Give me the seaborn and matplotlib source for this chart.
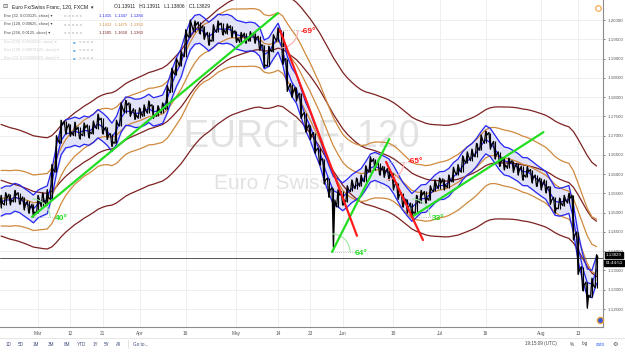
import matplotlib
matplotlib.use("Agg")
import matplotlib.pyplot as plt
from matplotlib.lines import Line2D
from matplotlib.patches import Arc
import numpy as np
import pandas as pd
import seaborn as sns

# EURCHF 120-min chart, one value per trading day (0 = 1 Mar 2018)
day_idx = list(range(-8, 122))
close = [1.1525, 1.1538, 1.1533, 1.1546, 1.1533, 1.1520, 1.1512, 1.1502,
         1.1533, 1.1533, 1.1538, 1.1611, 1.1689, 1.1728, 1.1720, 1.1709,
         1.1715, 1.1704, 1.1720, 1.1709, 1.1725, 1.1741, 1.1715, 1.1702,
         1.1683, 1.1728, 1.1772, 1.1779, 1.1761, 1.1754, 1.1759, 1.1767,
         1.1777, 1.1754, 1.1767, 1.1772, 1.1818, 1.1865, 1.1891, 1.1909,
         1.1961, 1.1987, 1.1987, 1.1979, 1.1961, 1.1948, 1.1974, 1.1987,
         1.1974, 1.1979, 1.1969, 1.1953, 1.1956, 1.1953, 1.1959, 1.1953,
         1.1935, 1.1883, 1.1922, 1.1953, 1.1969, 1.1896, 1.1824, 1.1813,
         1.1805, 1.1754, 1.1720, 1.1702, 1.1663, 1.1637, 1.1585, 1.1559,
         1.1533, 1.1546, 1.1533, 1.1559, 1.1572, 1.1577, 1.1585, 1.1611,
         1.1632, 1.1624, 1.1611, 1.1606, 1.1598, 1.1572, 1.1546, 1.1525,
         1.1515, 1.1502, 1.1533, 1.1546, 1.1538, 1.1559, 1.1572, 1.1577,
         1.1572, 1.1585, 1.1606, 1.1611, 1.1637, 1.1645, 1.1650, 1.1668,
         1.1689, 1.1702, 1.1676, 1.1650, 1.1632, 1.1624, 1.1629, 1.1619,
         1.1611, 1.1598, 1.1606, 1.1590, 1.1580, 1.1572, 1.1564, 1.1533,
         1.1512, 1.1525, 1.1533, 1.1538, 1.1442, 1.1351, 1.1312, 1.1286,
         1.1312, 1.13829]
high = [1.1545, 1.1552, 1.1548, 1.1558, 1.1552, 1.1541, 1.1530, 1.1522,
        1.1545, 1.1551, 1.1560, 1.1625, 1.1700, 1.1740, 1.1738, 1.1730,
        1.1735, 1.1722, 1.1733, 1.1728, 1.1738, 1.1756, 1.1745, 1.1722,
        1.1705, 1.1740, 1.1785, 1.1792, 1.1785, 1.1770, 1.1772, 1.1780,
        1.1790, 1.1780, 1.1778, 1.1785, 1.1830, 1.1875, 1.1900, 1.1920,
        1.1975, 1.2000, 1.1998, 1.1995, 1.1985, 1.1968, 1.1988, 1.1998,
        1.1992, 1.1990, 1.1985, 1.1972, 1.1968, 1.1966, 1.1970, 1.1966,
        1.1958, 1.1935, 1.1932, 1.1962, 1.1980, 1.1972, 1.1900, 1.1835,
        1.1825, 1.1810, 1.1760, 1.1728, 1.1708, 1.1668, 1.1640, 1.1590,
        1.1565, 1.1560, 1.1555, 1.1570, 1.1585, 1.1590, 1.1598, 1.1622,
        1.1645, 1.1640, 1.1630, 1.1620, 1.1615, 1.1602, 1.1578, 1.1552,
        1.1535, 1.1525, 1.1545, 1.1558, 1.1555, 1.1570, 1.1585, 1.1590,
        1.1588, 1.1598, 1.1618, 1.1625, 1.1648, 1.1658, 1.1665, 1.1680,
        1.1702, 1.1712, 1.1708, 1.1685, 1.1658, 1.1642, 1.1642, 1.1635,
        1.1628, 1.1620, 1.1620, 1.1612, 1.1598, 1.1590, 1.1585, 1.1568,
        1.1540, 1.1538, 1.1545, 1.1550, 1.1545, 1.1450, 1.1360, 1.1320,
        1.1330, 1.1391]
low = [1.1512, 1.1520, 1.1521, 1.1528, 1.1522, 1.1508, 1.1499, 1.1490,
       1.1498, 1.1515, 1.1520, 1.1535, 1.1605, 1.1680, 1.1705, 1.1698,
       1.1700, 1.1692, 1.1700, 1.1695, 1.1705, 1.1718, 1.1705, 1.1690,
       1.1672, 1.1680, 1.1725, 1.1760, 1.1750, 1.1742, 1.1745, 1.1750,
       1.1758, 1.1745, 1.1750, 1.1758, 1.1768, 1.1812, 1.1858, 1.1880,
       1.1905, 1.1955, 1.1970, 1.1965, 1.1950, 1.1935, 1.1945, 1.1968,
       1.1962, 1.1965, 1.1955, 1.1942, 1.1942, 1.1940, 1.1945, 1.1940,
       1.1922, 1.1878, 1.1880, 1.1918, 1.1945, 1.1885, 1.1815, 1.1800,
       1.1790, 1.1745, 1.1710, 1.1690, 1.1655, 1.1625, 1.1575, 1.1540,
       1.1410, 1.1515, 1.1520, 1.1528, 1.1555, 1.1562, 1.1568, 1.1580,
       1.1605, 1.1612, 1.1598, 1.1592, 1.1585, 1.1560, 1.1535, 1.1515,
       1.1500, 1.1488, 1.1498, 1.1525, 1.1525, 1.1532, 1.1555, 1.1562,
       1.1560, 1.1565, 1.1580, 1.1598, 1.1605, 1.1628, 1.1635, 1.1645,
       1.1662, 1.1680, 1.1665, 1.1640, 1.1620, 1.1612, 1.1615, 1.1605,
       1.1598, 1.1585, 1.1592, 1.1578, 1.1568, 1.1560, 1.1552, 1.1522,
       1.1500, 1.1510, 1.1518, 1.1525, 1.1430, 1.1340, 1.1298, 1.1253,
       1.1280, 1.1305]

# envelopes: EMA length in 2h bars, width, basis at the left edge
env_len = [256, 128, 32]
env_pct = [0.0125, 0.00625, 0.003125]
env_seed = [1.1590, 1.1540, 1.1530]
env_color = ["#7d2222", "#cf8a3e", "#2626f2"]

tick_idx = [0, 7, 14, 22, 32, 43, 52, 59, 66, 77, 87, 97, 109, 117]
tick_lab = ["Mar", "12", "21", "Apr", "16", "May", "14", "23", "Jun", "18",
            "Jul", "16", "Aug", "13"]
price_ticks = [1.125, 1.130, 1.135, 1.140, 1.145, 1.150, 1.155, 1.160,
               1.165, 1.170, 1.175, 1.180, 1.185, 1.190, 1.195, 1.200]

# trend-angle drawings (start, end) in (day, price), angle in degrees
green_lines = [((-1.3, 1.1489), (52.0, 1.2018)),
               ((63.7, 1.1398), (76.1, 1.1691)),
               ((81.0, 1.1489), (109.5, 1.1709))]
red_lines = [((52.4, 1.1974), (69.1, 1.1440)),
             ((75.4, 1.1632), (83.4, 1.1429))]
green_deg = [40, 64, 33]
red_deg = [-69, -65]
angle_txt = ["40°", "-69°", "64°", "-65°", "33°"]
angle_pos = [(3.7, 1.1486), (56.8, 1.1969), (68.7, 1.1395), (80.0, 1.1632), (85.4, 1.1484)]
angle_col = ["#22dd22", "#ff1a1a", "#22dd22", "#ff1a1a", "#22dd22"]

legend_vals = [["1.1315", "1.1347", "1.1284"],
               ["1.1412", "1.1475", "1.1350"],
               ["1.1505", "1.1650", "1.1360"]]
last_price = 1.13829

sns.set_theme(style="white")
plt.rcParams["font.family"] = ["Liberation Sans", "DejaVu Sans"]

fig = plt.figure(figsize=(6.25, 3.52), dpi=100)
ax = fig.add_axes([0, 25 / 352, 603 / 625, 327 / 352])

W, H = 625, 352
XLIM = (-8.23, 122.4)
YLIM = (1.12033, 1.2052)
px_x = (XLIM[1] - XLIM[0]) / 603   # days per pixel
px_y = (YLIM[1] - YLIM[0]) / 327   # price per pixel


def ftext(x, y, s, **kw):
    fig.text(x / W, 1 - y / H, s, va="center", **kw)


# grid
for t in tick_idx:
    ax.axvline(t, color="#ededed", lw=0.6, zorder=0)
for p in price_ticks:
    ax.axhline(p, color="#ededed", lw=0.6, zorder=0)

# watermark
ax.text(0.5, 0.58, "EURCHF, 120", transform=ax.transAxes, ha="center", va="center",
        fontsize=27, color="#e2e2e2", zorder=0.5)
ax.text(0.5, 0.44, "Euro / Swiss Franc", transform=ax.transAxes, ha="center", va="center",
        fontsize=15, color="#e2e2e2", zorder=0.5)

# envelopes
for n, pct, seed, col in zip(env_len, env_pct, env_seed, env_color):
    basis = pd.Series([seed] + close).ewm(span=n / 12, adjust=False).mean().iloc[1:].to_numpy()
    up = basis * (1 + pct)
    dn = basis * (1 - pct)
    if n == 32:
        ax.fill_between(day_idx, dn, up, color="#e3e3f8", zorder=1)
    for line in (basis, up, dn):
        sns.lineplot(x=day_idx, y=line, color=col, lw=0.9, ax=ax, zorder=2)

# price: zigzag through each day's low/high/close
zx, zy = [], []
prev = close[0]
for d, h, l, c in zip(day_idx, high, low, close):
    first, second = (l, h) if c >= prev else (h, l)
    zx += [d - 0.3, d, d + 0.3]
    zy += [first, second, c]
    prev = c
ax.plot(zx, zy, color="black", lw=0.9, zorder=3)
ax.vlines(day_idx, low, high, color="black", lw=0.8, zorder=3)

# last price line
ax.axhline(last_price, color="#555555", lw=0.7, zorder=2.5)

# trend lines with angle arcs
segs = [(g, d, "#22dd22", "#9fe89f") for g, d in zip(green_lines, green_deg)] + \
       [(r, d, "#ff1a1a", "#ffaaaa") for r, d in zip(red_lines, red_deg)]
for (a, b), deg, col, light in segs:
    ax.plot([a[0], b[0]], [a[1], b[1]], color=col, lw=1.6, zorder=4)
    ax.plot([a[0], a[0] + 26 * px_x], [a[1], a[1]], color="#aaaaaa", lw=0.6, ls=":", zorder=3.5)
    ax.add_patch(Arc((a[0], a[1]), 36 * px_x, 36 * px_y, theta1=min(0, deg), theta2=max(0, deg),
                     color=light, lw=0.8, zorder=3.5))
for s, (x, y), c in zip(angle_txt, angle_pos, angle_col):
    ax.text(x, y, s, color=c, fontsize=6, fontweight="bold", va="center", zorder=5)

ax.set_xlim(*XLIM)
ax.set_ylim(*YLIM)
ax.set_xticks(tick_idx, tick_lab)
ax.set_yticks(price_ticks, [f"{p:.5f}" for p in price_ticks])
ax.yaxis.tick_right()
ax.tick_params(axis="x", labelsize=3.4, colors="#555555", length=1.5, pad=1.5, width=0.5)
ax.tick_params(axis="y", labelsize=3.2, colors="#555555", length=1.5, pad=1.5, width=0.5)
for side in ["top", "left"]:
    ax.spines[side].set_visible(False)
for side in ["right", "bottom"]:
    ax.spines[side].set_color("#8c8c8c")
    ax.spines[side].set_linewidth(0.8)
ax.set_xlabel("")
ax.set_ylabel("")

# last price tag
ftext(614, 255, "1.13829", fontsize=3.2, color="white", ha="center",
      bbox=dict(boxstyle="square,pad=0.25", fc="black", ec="black"))
ftext(614, 263, "01:44:51", fontsize=3.2, color="white", ha="center",
      bbox=dict(boxstyle="square,pad=0.25", fc="black", ec="black"))

# small pane icons
fig.add_artist(Line2D([598 / W], [1 - 8 / H], marker="o", ms=4, mfc="none", mec="#f5a040", mew=0.8))
fig.add_artist(Line2D([600 / W], [1 - 320 / H], marker="o", ms=4.5, mfc="#3a5bd0", mec="#f5a040", mew=0.9))

# legend block, top left
ftext(2, 7, "⊟", fontsize=4.5, color="#555555")
ftext(12, 7, "Euro Fx/Swiss Franc, 120, FXCM  ▾", fontsize=3.7, color="#222222")
ftext(114, 7, "O1.13911   H1.13911   L1.13806   C1.13829", fontsize=3.5, color="#222222")
env_names = ["Env (32, 0.003125, close)", "Env (128, 0.00625, close)", "Env (256, 0.0125, close)"]
for i, (name, vals) in enumerate(zip(env_names, legend_vals)):
    y = 16 + 8.5 * i
    col = env_color[2 - i]
    ftext(4, y, name + " ▾", fontsize=2.9, color="#444444")
    ftext(64, y, "■ ■ ■ ■ ■", fontsize=3.2, color="#dadada")
    ftext(99, y, "   ".join(vals), fontsize=3.0, color=col)
faded = ["Env (256, 0.0015625, close)", "Env (128, 0.00078125, close)", "Env (32, 0.000390625, close)"]
for i, name in enumerate(faded):
    y = 42 + 8 * i
    ftext(4, y, name + " ▾", fontsize=2.9, color="#cfcfcf")
    ftext(73, y, "■", fontsize=3.2, color="#6fb4ea")
    ftext(79, y, "■ ■ ■ ■", fontsize=3.2, color="#dadada")

# bottom toolbar
fig.add_artist(Line2D([0, 1], [1 - 338 / H, 1 - 338 / H], color="#e2e2e2", lw=0.6))
for s, x in zip(["1D", "5D", "1M", "3M", "6M", "YTD", "1Y", "5Y", "All"],
                [9, 21, 36, 51, 67, 82, 96, 107, 119]):
    ftext(x, 344, s, fontsize=3.3, color="#3b4a78", ha="center")
fig.add_artist(Line2D([128 / W, 128 / W], [1 - 340 / H, 1 - 348 / H], color="#dddddd", lw=0.6))
ftext(133, 344, "Go to...", fontsize=3.3, color="#3b4a78")
ftext(541, 344, "19:15:09 (UTC)", fontsize=3.3, color="#444444", ha="center")
ftext(572, 344, "%", fontsize=3.3, color="#444444", ha="center")
ftext(585, 344, "log", fontsize=3.3, color="#444444", ha="center")
ftext(600, 344, "auto", fontsize=3.3, color="#2a62f5", ha="center")
ftext(615, 344, "⚙", fontsize=4.5, color="#444444", ha="center")

fig.savefig("out.png", dpi=100)
